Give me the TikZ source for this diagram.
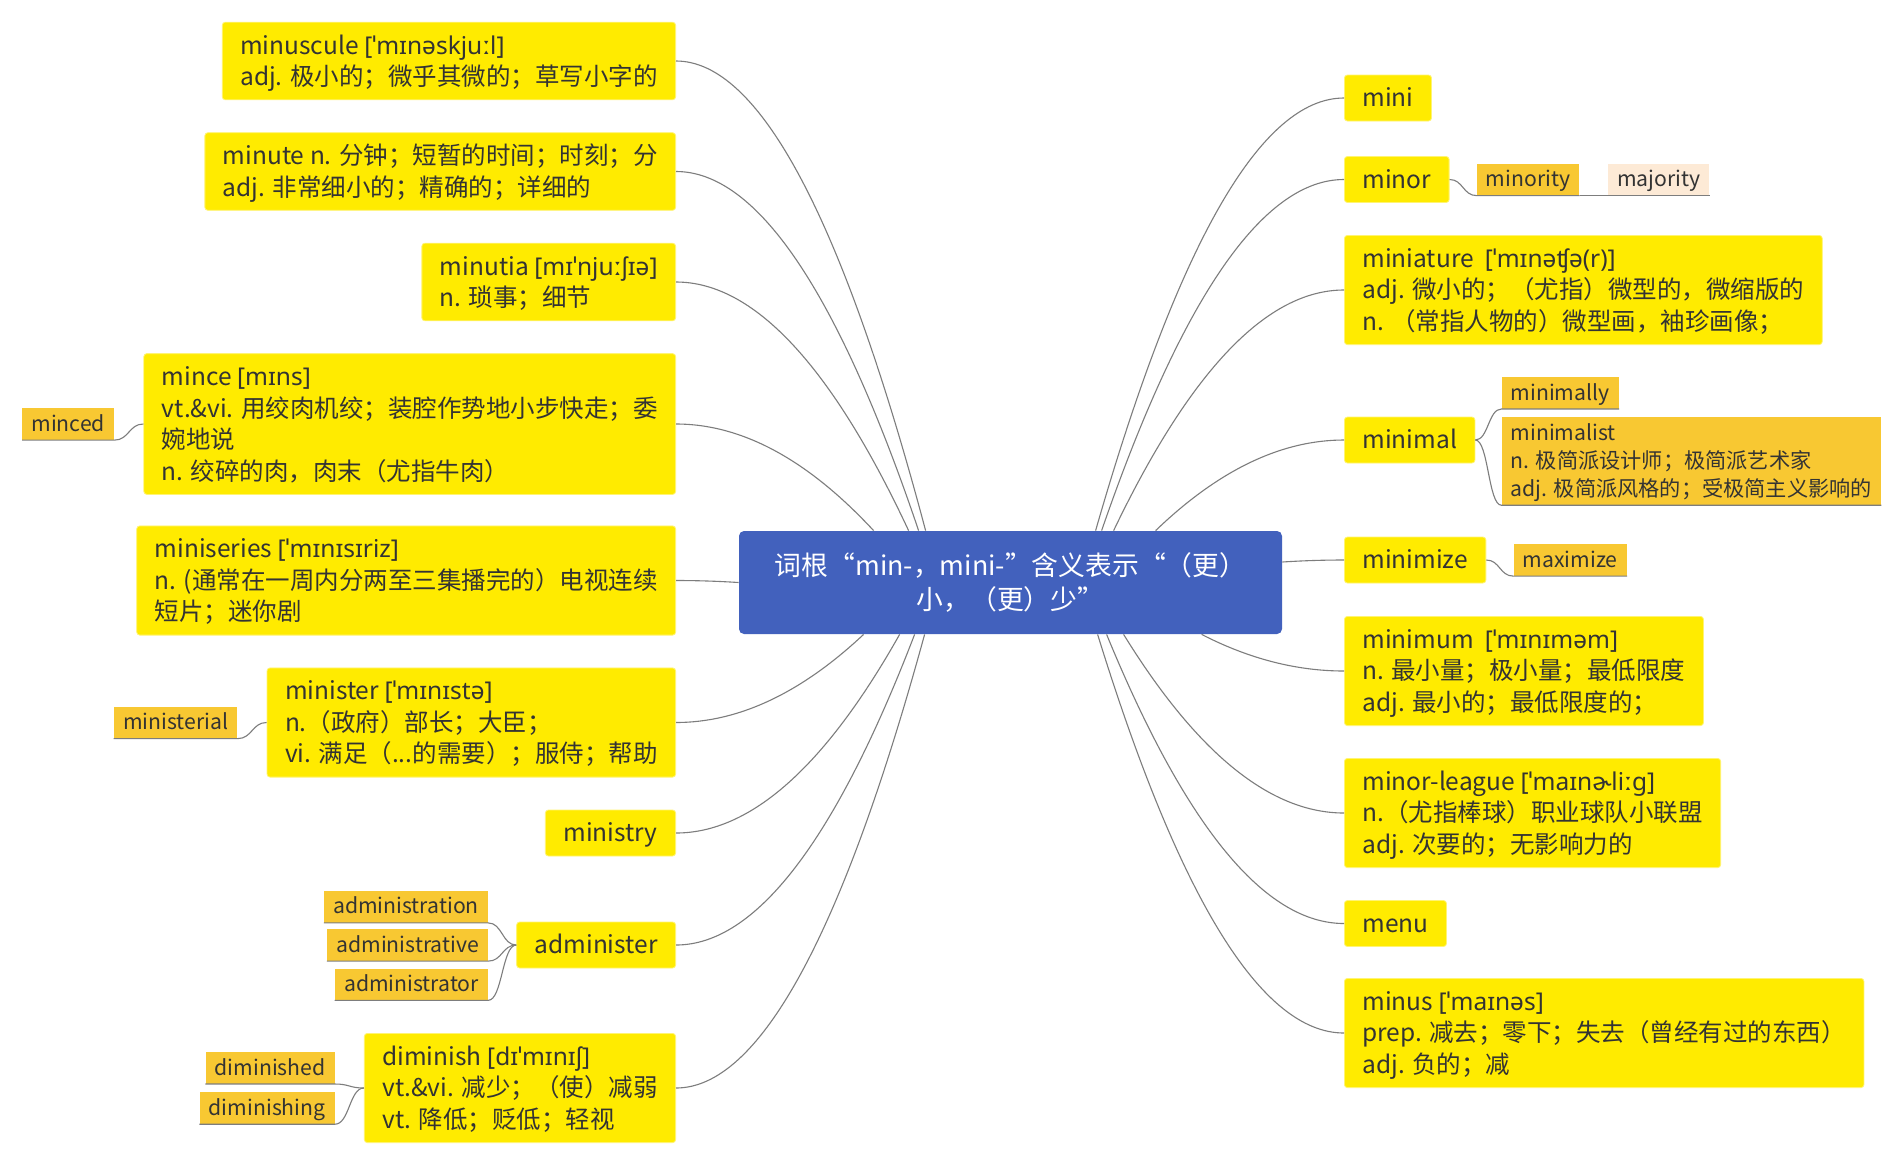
\documentclass[tikz,border=0pt]{standalone}
\usepackage{fontspec}
\setmainfont{Noto Sans CJK SC}
\newfontfamily\ipafont{Noto Sans}
\newcommand{\ipa}[1]{{\ipafont #1}}
\newcommand{\wtop}{\rule{0pt}{12.3pt}}
\newcommand{\dtop}{\rule{0pt}{10.5pt}}
\usetikzlibrary{positioning}
\usetikzlibrary{calc}
\definecolor{hubcolor}{RGB}{66, 97, 189}
\definecolor{wordcolor}{RGB}{255, 235, 0}
\definecolor{derivcolor}{RGB}{248, 200, 50}
\definecolor{oppcolor}{RGB}{253, 234, 214}
\definecolor{linkcolor}{RGB}{125, 125, 125}
\definecolor{inkcolor}{RGB}{51, 51, 51}
\tikzset{
	hubbox/.style={fill=hubcolor, rounded corners=2.5pt, text=white, align=center, font=\fontsize{13.4pt}{17pt}\selectfont, minimum width=271.5pt, minimum height=51.5pt},
	wordbox/.style={fill=wordcolor, draw=wordcolor!55!white, line width=0.4pt, rounded corners=1.5pt, text=inkcolor, align=left, font=\fontsize{12.25pt}{15.8pt}\selectfont, inner xsep=9pt, inner ysep=3.6pt, execute at end node={\rule[-3.5pt]{0pt}{3.5pt}}},
	derivbox/.style={fill=derivcolor, text=inkcolor, align=left, font=\fontsize{10.6pt}{14pt}\selectfont, inner xsep=4.5pt, inner ysep=0.9pt, execute at end node={\rule[-3.4pt]{0pt}{3.4pt}}},
	oppbox/.style={derivbox, fill=oppcolor},
	trunk/.style={draw=linkcolor, line width=0.55pt, to path={let \p1=(\tikztostart), \p2=(\tikztotarget) in .. controls ({(2*\x1+\x2)/3}, {(\y1+2*\y2)/3}) and ({(\x1+2*\x2)/3}, \y2) .. (\tikztotarget)}},
	twig/.style={draw=linkcolor, line width=0.55pt, to path={let \p1=(\tikztostart), \p2=(\tikztotarget) in .. controls ({(\x1+\x2)/2}, \y1) and ({(\x1+\x2)/2}, \y2) .. (\tikztotarget)}}
}

\begin{document}
\begin{tikzpicture}[x=0.5pt, y=-0.5pt, node distance=14pt]

	\path [fill=white] (0,0) rectangle (1904,1163);
	\useasboundingbox (0,0) rectangle (1904,1163);

	%
	% Central topic
	\node [hubbox] at (1010.5,582.5) (hub) {词根“min-，mini-”含义表示“（更）\\小，（更）少”};

	%
	% Left side
	\node [wordbox, anchor=east] at (676,61) (minuscule) {\wtop minuscule \ipa{[ˈmɪnəskjuːl]}\\adj. 极小的；微乎其微的；草写小字的};
	\node [wordbox, anchor=east] at (676,171.5) (minute) {\wtop minute n. 分钟；短暂的时间；时刻；分\\adj. 非常细小的；精确的；详细的};
	\node [wordbox, anchor=east] at (676,282) (minutia) {\wtop minutia \ipa{[mɪˈnjuːʃɪə]}\\n. 琐事；细节};
	\node [wordbox, anchor=east] at (676,424) (mince) {\wtop mince \ipa{[mɪns]}\\vt.\&vi. 用绞肉机绞；装腔作势地小步快走；委\\婉地说\\n. 绞碎的肉，肉末（尤指牛肉）};
	\node [wordbox, anchor=east] at (676,580.5) (miniseries) {\wtop miniseries \ipa{[ˈmɪnɪsɪriz]}\\n. (通常在一周内分两至三集播完的）电视连续\\短片；迷你剧};
	\node [wordbox, anchor=east] at (676,722.5) (minister) {\wtop minister \ipa{[ˈmɪnɪstə]}\\n.（政府）部长；大臣；\\vi. 满足（...的需要）；服侍；帮助};
	\node [wordbox, anchor=east] at (676,833) (ministry) {\wtop ministry};
	\node [wordbox, anchor=east] at (676,945) (administer) {\wtop administer};
	\node [wordbox, anchor=east] at (676,1088) (diminish) {\wtop diminish \ipa{[dɪˈmɪnɪʃ]}\\vt.\&vi. 减少；（使）减弱\\vt. 降低；贬低；轻视};

	% Derived words (left)
	\node [derivbox, left=14.5pt of mince] (minced) {\dtop minced};
	\node [derivbox, left=14.5pt of minister] (ministerial) {\dtop ministerial};
	\node [derivbox, left=14pt of administer] (administrative) {\dtop administrative};
	\node [derivbox, above=3pt of administrative.north east, anchor=south east] (administration) {\dtop administration};
	\node [derivbox, below=3.5pt of administrative.south east, anchor=north east] (administrator) {\dtop administrator};
	\node [derivbox, anchor=south east] at ([xshift=-14.5pt, yshift=2pt]diminish.west) (diminished) {\dtop diminished};
	\node [derivbox, anchor=north east] at ([xshift=-14.5pt, yshift=-2pt]diminish.west) (diminishing) {\dtop diminishing};

	%
	% Right side
	\node [wordbox, anchor=west] at (1344,98) (mini) {\wtop mini};
	\node [wordbox, anchor=west] at (1344,179.5) (minor) {\wtop minor};
	\node [wordbox, anchor=west] at (1344,290) (miniature) {\wtop miniature\ \ \ipa{[ˈmɪnəʧə(r)]}\\adj. 微小的；（尤指）微型的，微缩版的\\n. （常指人物的）微型画，袖珍画像；};
	\node [wordbox, anchor=west] at (1344,440) (minimal) {\wtop minimal};
	\node [wordbox, anchor=west] at (1344,560) (minimize) {\wtop minimize};
	\node [wordbox, anchor=west] at (1344,671) (minimum) {\wtop minimum\ \ \ipa{[ˈmɪnɪməm]}\\n. 最小量；极小量；最低限度\\adj. 最小的；最低限度的；};
	\node [wordbox, anchor=west] at (1344,813) (minorleague) {\wtop minor-league \ipa{[ˈmaɪnɚliːg]}\\n.（尤指棒球）职业球队小联盟\\adj. 次要的；无影响力的};
	\node [wordbox, anchor=west] at (1344,923.5) (menu) {\wtop menu};
	\node [wordbox, anchor=west] at (1344,1033) (minus) {\wtop minus \ipa{[ˈmaɪnəs]}\\prep. 减去；零下；失去（曾经有过的东西）\\adj. 负的；减};

	% Derived words (right)
	\node [derivbox, right=13.5pt of minor] (minority) {\dtop minority};
	\node [oppbox, right=14pt of minority] (majority) {\dtop majority};
	\node [derivbox, anchor=south west] at ([xshift=13pt, yshift=15.5pt]minimal.east) (minimally) {\dtop minimally};
	\node [derivbox, anchor=north west] at ([xshift=13pt, yshift=11.5pt]minimal.east) (minimalist) {\dtop minimalist\\n. 极简派设计师；极简派艺术家\\adj. 极简派风格的；受极简主义影响的};
	\node [derivbox, right=13.5pt of minimize] (maximize) {\dtop maximize};

	%
	% Branches from the central topic
	\draw [trunk] ([xshift=93.5pt]hub.north west) to (minuscule.east);
	\draw [trunk] ([xshift=90pt]hub.north west) to (minute.east);
	\draw [trunk] ([xshift=85pt]hub.north west) to (minutia.east);
	\draw [trunk] ([xshift=67.5pt]hub.north west) to (mince.east);
	\draw [trunk] (hub.west) to (miniseries.east);
	\draw [trunk] ([xshift=62.5pt]hub.south west) to (minister.east);
	\draw [trunk] ([xshift=80.5pt]hub.south west) to (ministry.east);
	\draw [trunk] ([xshift=88pt]hub.south west) to (administer.east);
	\draw [trunk] ([xshift=93pt]hub.south west) to (diminish.east);

	\draw [trunk] ([xshift=178.5pt]hub.north west) to (mini.west);
	\draw [trunk] ([xshift=181.5pt]hub.north west) to (minor.west);
	\draw [trunk] ([xshift=187.5pt]hub.north west) to (miniature.west);
	\draw [trunk] ([xshift=208.5pt]hub.north west) to (minimal.west);
	\draw [trunk] ([yshift=10.25pt]hub.east) to (minimize.west);
	\draw [trunk] ([xshift=231.5pt]hub.south west) to (minimum.west);
	\draw [trunk] ([xshift=192.5pt]hub.south west) to (minorleague.west);
	\draw [trunk] ([xshift=184pt]hub.south west) to (menu.west);
	\draw [trunk] ([xshift=179.5pt]hub.south west) to (minus.west);

	%
	% Links to derived words (with underline)
	\draw [twig] (mince.west) to (minced.south east) -- (minced.south west);
	\draw [twig] (minister.west) to (ministerial.south east) -- (ministerial.south west);
	\draw [twig] (administer.west) to (administration.south east) -- (administration.south west);
	\draw [twig] (administer.west) to (administrative.south east) -- (administrative.south west);
	\draw [twig] (administer.west) to (administrator.south east) -- (administrator.south west);
	\draw [twig] (diminish.west) to (diminished.south east) -- (diminished.south west);
	\draw [twig] (diminish.west) to (diminishing.south east) -- (diminishing.south west);

	\draw [twig] (minor.east) to (minority.south west) -- (minority.south east);
	\draw [twig] (minority.south east) to (majority.south west) -- (majority.south east);
	\draw [twig] (minimal.east) to (minimally.south west) -- (minimally.south east);
	\draw [twig] (minimal.east) to (minimalist.south west) -- (minimalist.south east);
	\draw [twig] (minimize.east) to (maximize.south west) -- (maximize.south east);

\end{tikzpicture}
\end{document}
